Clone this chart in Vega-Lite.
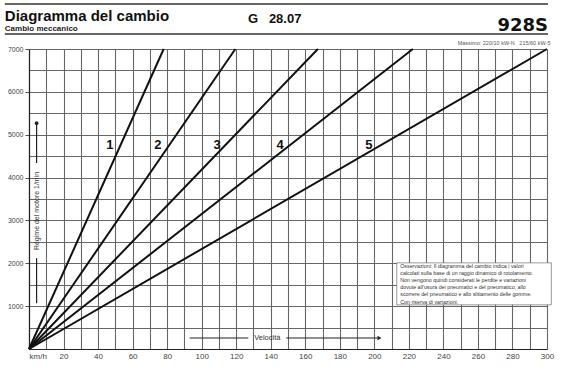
{
  "$schema": "https://vega.github.io/schema/vega-lite/v6.json",
  "width": 518,
  "height": 300,
  "autosize": "none",
  "padding": {"left": 29, "top": 49, "right": 26, "bottom": 28},
  "background": "white",
  "config": {"view": {"stroke": null}, "font": "Liberation Sans"},
  "encoding": {
    "x": {
      "field": "kmh",
      "type": "quantitative",
      "scale": {"domain": [0, 300], "nice": false, "zero": false},
      "axis": {
        "title": null,
        "values": [0,10,20,30,40,50,60,70,80,90,100,110,120,130,140,150,160,170,180,190,200,210,220,230,240,250,260,270,280,290,300],
        "labelExpr": "datum.value == 0 ? 'km/h' : (datum.value % 20 == 0 ? datum.label : '')",
        "labelAlign": {"condition": {"test": "datum.value == 0", "value": "left"}, "value": "center"},
        "labelFontSize": 8,
        "labelColor": "#444",
        "labelPadding": 3,
        "ticks": false,
        "grid": true,
        "gridColor": "#666",
        "gridWidth": 1.1,
        "domainColor": "#222",
        "domainWidth": 1.2
      }
    },
    "y": {
      "field": "rpm",
      "type": "quantitative",
      "scale": {"domain": [0, 7000], "nice": false, "zero": false},
      "axis": {
        "title": null,
        "values": [0,500,1000,1500,2000,2500,3000,3500,4000,4500,5000,5500,6000,6500,7000],
        "format": "d",
        "labelExpr": "datum.value > 0 && datum.value % 1000 == 0 ? datum.label : ''",
        "labelFontSize": 7,
        "labelColor": "#444",
        "labelPadding": 2,
        "tickSize": 4,
        "tickColor": {"condition": {"test": "datum.value > 0 && datum.value % 1000 == 0", "value": "#555"}, "value": "transparent"},
        "grid": true,
        "gridColor": "#666",
        "gridWidth": 1.1,
        "domainColor": "#222",
        "domainWidth": 1.2
      }
    }
  },
  "layer": [
    {
      "data": {"values": [
        {"kmh": 213, "rpm": 2010, "kmh2": 302.5, "rpm2": 1030}
      ]},
      "mark": {"type": "rect", "fill": "white", "stroke": "#555", "strokeWidth": 0.6},
      "encoding": {"x2": {"field": "kmh2"}, "y2": {"field": "rpm2"}}
    },
    {
      "data": {"values": [
        {"gear": "1", "kmh": 0, "rpm": 0}, {"gear": "1", "kmh": 78, "rpm": 7000},
        {"gear": "2", "kmh": 0, "rpm": 0}, {"gear": "2", "kmh": 119.5, "rpm": 7000},
        {"gear": "3", "kmh": 0, "rpm": 0}, {"gear": "3", "kmh": 167.3, "rpm": 7000},
        {"gear": "4", "kmh": 0, "rpm": 0}, {"gear": "4", "kmh": 222.3, "rpm": 7000},
        {"gear": "5", "kmh": 0, "rpm": 0}, {"gear": "5", "kmh": 300, "rpm": 7000}
      ]},
      "mark": {"type": "line", "color": "#111", "strokeWidth": 2},
      "encoding": {"detail": {"field": "gear"}}
    },
    {
      "data": {"values": [
        {"label": "1", "kmh": 46.9, "rpm": 4760},
        {"label": "2", "kmh": 74.7, "rpm": 4760},
        {"label": "3", "kmh": 108.9, "rpm": 4760},
        {"label": "4", "kmh": 145.4, "rpm": 4760},
        {"label": "5", "kmh": 196.9, "rpm": 4760}
      ]},
      "mark": {"type": "text", "fontSize": 13, "fontWeight": "bold", "color": "#111", "baseline": "middle", "align": "center"},
      "encoding": {"text": {"field": "label"}}
    },
    {
      "data": {"values": [
        {"kmh": 4.4, "rpm": 4340, "kmh2": 4.4, "rpm2": 5270},
        {"kmh": 4.4, "rpm": 1070, "kmh2": 4.4, "rpm2": 2120},
        {"kmh": 93, "rpm": 257, "kmh2": 127, "rpm2": 257},
        {"kmh": 149, "rpm": 257, "kmh2": 202, "rpm2": 257}
      ]},
      "mark": {"type": "rule", "color": "#222", "strokeWidth": 1.2},
      "encoding": {"x2": {"field": "kmh2"}, "y2": {"field": "rpm2"}}
    },
    {
      "data": {"values": [{"kmh": 4.4, "rpm": 5270}]},
      "mark": {"type": "point", "shape": "circle", "filled": true, "color": "#222", "size": 14, "opacity": 1}
    },
    {
      "data": {"values": [{"kmh": 203, "rpm": 257}]},
      "mark": {"type": "point", "shape": "triangle-right", "filled": true, "color": "#222", "size": 22, "opacity": 1}
    },
    {
      "data": {"values": [{"label": "Regime del motore 1/min", "kmh": 4.4, "rpm": 3220}]},
      "mark": {"type": "text", "angle": 270, "fontSize": 7, "color": "#333", "align": "center", "baseline": "middle"},
      "encoding": {"text": {"field": "label"}}
    },
    {
      "data": {"values": [{"label": "Velocità", "kmh": 138, "rpm": 257}]},
      "mark": {"type": "text", "fontSize": 7.5, "color": "#333", "align": "center", "baseline": "middle"},
      "encoding": {"text": {"field": "label"}}
    },
    {
      "data": {"values": [
        {"line": "Osservazioni: Il diagramma del cambio indica i valori", "kmh": 215, "rpm": 1944},
        {"line": "calcolati sulla base di un raggio dinamico di rotolamento.", "kmh": 215, "rpm": 1776},
        {"line": "Non vengono quindi considerati le perdite e variazioni", "kmh": 215, "rpm": 1608},
        {"line": "dovute all'usura dei pneumatici e del pneumatico, allo", "kmh": 215, "rpm": 1440},
        {"line": "scorrere del pneumatico e allo slittamento delle gomme.", "kmh": 215, "rpm": 1272},
        {"line": "Con riserva di variazioni.", "kmh": 215, "rpm": 1104}
      ]},
      "mark": {"type": "text", "fontSize": 5.3, "color": "#333", "align": "left", "baseline": "middle"},
      "encoding": {"text": {"field": "line"}}
    },
    {
      "data": {"values": [
        {"kmh": -14, "rpm": 8050, "kmh2": 300.6, "rpm2": 8050},
        {"kmh": -14, "rpm": 7350, "kmh2": 300.6, "rpm2": 7350}
      ]},
      "mark": {"type": "rule", "color": "#333", "strokeWidth": 1.5},
      "encoding": {"x2": {"field": "kmh2"}, "y2": {"field": "rpm2"}}
    },
    {
      "data": {"values": [{"label": "Diagramma del cambio", "kmh": -14, "rpm": 7653}]},
      "mark": {"type": "text", "fontSize": 15, "fontWeight": "bold", "color": "#111", "align": "left", "baseline": "alphabetic"},
      "encoding": {"text": {"field": "label"}}
    },
    {
      "data": {"values": [{"label": "Cambio meccanico", "kmh": -14, "rpm": 7420}]},
      "mark": {"type": "text", "fontSize": 8, "fontWeight": "bold", "color": "#222", "align": "left", "baseline": "alphabetic"},
      "encoding": {"text": {"field": "label"}}
    },
    {
      "data": {"values": [{"label": "G\u00a0\u00a0\u00a028.07", "kmh": 126.8, "rpm": 7607}]},
      "mark": {"type": "text", "fontSize": 13, "fontWeight": "bold", "color": "#111", "align": "left", "baseline": "alphabetic"},
      "encoding": {"text": {"field": "label"}}
    },
    {
      "data": {"values": [{"label": "928S", "kmh": 300.6, "rpm": 7420}]},
      "mark": {"type": "text", "font": "DejaVu Sans", "fontSize": 18, "fontWeight": "bold", "color": "#111", "align": "right", "baseline": "alphabetic"},
      "encoding": {"text": {"field": "label"}}
    },
    {
      "data": {"values": [{"label": "Massimo: 220/10 kW-N\u00a0\u00a0\u00a0215/60 kW-5", "kmh": 302, "rpm": 7140}]},
      "mark": {"type": "text", "fontSize": 5.5, "color": "#555", "align": "right", "baseline": "middle"},
      "encoding": {"text": {"field": "label"}}
    }
  ]
}
